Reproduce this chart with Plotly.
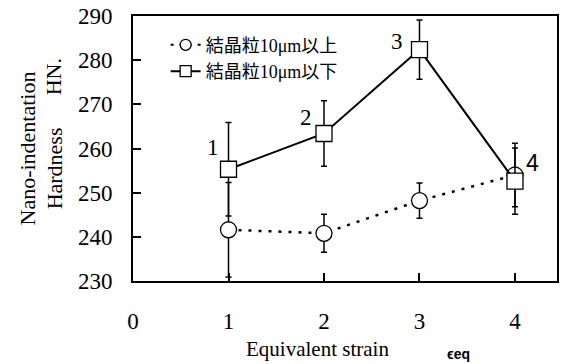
import plotly.graph_objects as go

strain = [1, 2, 3, 4]
above_vals = [241.6, 240.8, 248.2, 254.0]
above_err = [10.7, 4.3, 4.0, 7.2]
below_vals = [255.3, 263.4, 282.4, 252.6]
below_err = [10.6, 7.4, 6.7, 7.5]
point_labels = ["1", "2", "3", "4"]
names = ["結晶粒10μm以上", "結晶粒10μm以下"]
x_ticks = [0, 1, 2, 3, 4]
y_ticks = [230, 240, 250, 260, 270, 280, 290]

SERIF = "'Liberation Serif', 'Times New Roman', 'Noto Sans CJK JP', serif"
SANS = "'Liberation Sans', Arial, sans-serif"

fig = go.Figure()

fig.add_trace(go.Scatter(
    x=strain, y=above_vals, mode="lines", showlegend=False,
    line=dict(color="black", width=2.5, dash="3px,7px"),
    error_y=dict(type="data", array=above_err, color="black", thickness=1.5, width=3),
))
fig.add_trace(go.Scatter(
    x=strain, y=above_vals, mode="markers", showlegend=False, hoverinfo="skip",
    marker=dict(symbol="circle", size=16, color="white", line=dict(width=1.3, color="black")),
))
fig.add_trace(go.Scatter(
    x=strain, y=below_vals, mode="lines", showlegend=False,
    line=dict(color="black", width=2),
    error_y=dict(type="data", array=below_err, color="black", thickness=1.5, width=3),
))
fig.add_trace(go.Scatter(
    x=strain, y=below_vals, mode="markers", showlegend=False, hoverinfo="skip",
    marker=dict(symbol="square", size=16, color="white", line=dict(width=1.3, color="black")),
))

# legend-only entries
fig.add_trace(go.Scatter(
    x=[None], y=[None], mode="lines+markers", name=names[0],
    line=dict(color="black", width=2, dash="3px,6px"),
    marker=dict(symbol="circle", size=11, color="white", line=dict(width=1.3, color="black")),
))
fig.add_trace(go.Scatter(
    x=[None], y=[None], mode="lines+markers", name=names[1],
    line=dict(color="black", width=2),
    marker=dict(symbol="square", size=11, color="white", line=dict(width=1.3, color="black")),
))

shifts = [(-16, 22), (-18, 16), (-22, 8), (18, 18)]
for i, lab in enumerate(point_labels):
    fig.add_annotation(
        x=strain[i], y=below_vals[i], text=lab, showarrow=False,
        xshift=shifts[i][0], yshift=shifts[i][1],
        font=dict(family=SERIF if i < 3 else SANS, size=23, color="black"),
    )

# axis titles
def ann(text, px, py, size, angle=0, family=SERIF):
    fig.add_annotation(xref="paper", yref="paper",
                       x=(px - 133) / 426, y=(281 - py) / 265,
                       xanchor="center", yanchor="middle",
                       text=text, showarrow=False, textangle=angle,
                       font=dict(family=family, size=size, color="black"))

ann("Equivalent strain", 318, 349, 21)
ann("<b>ϵeq</b>", 460, 354, 14, family=SANS)
ann("Nano-indentation", 26, 149, 22, -90)
ann("Hardness", 54, 168, 22, -90)
ann("HN.", 54, 77, 22, -90)

axis_common = dict(
    showgrid=False, zeroline=False, showline=True, linecolor="black", linewidth=2,
    mirror=True, ticks="inside", tickcolor="black", tickwidth=2, ticklen=8,
    tickfont=dict(family=SERIF, size=23, color="black"),
)
fig.update_xaxes(range=[0, 4.44], tickvals=x_ticks, ticktext=[str(v) for v in x_ticks],
                 ticklabelstandoff=18, **axis_common)
fig.update_yaxes(range=[230, 290], tickvals=y_ticks, ticktext=[str(v) for v in y_ticks],
                 ticklabelstandoff=14, **axis_common)

fig.update_layout(
    width=563, height=364,
    margin=dict(l=133, r=4, t=16, b=83),
    paper_bgcolor="white", plot_bgcolor="white",
    legend=dict(x=0.077, y=0.96, xanchor="left", yanchor="top",
                bgcolor="rgba(0,0,0,0)", font=dict(family=SERIF, size=18, color="black"),
                tracegroupgap=0, itemwidth=30),
)

fig.write_html("out.html")
